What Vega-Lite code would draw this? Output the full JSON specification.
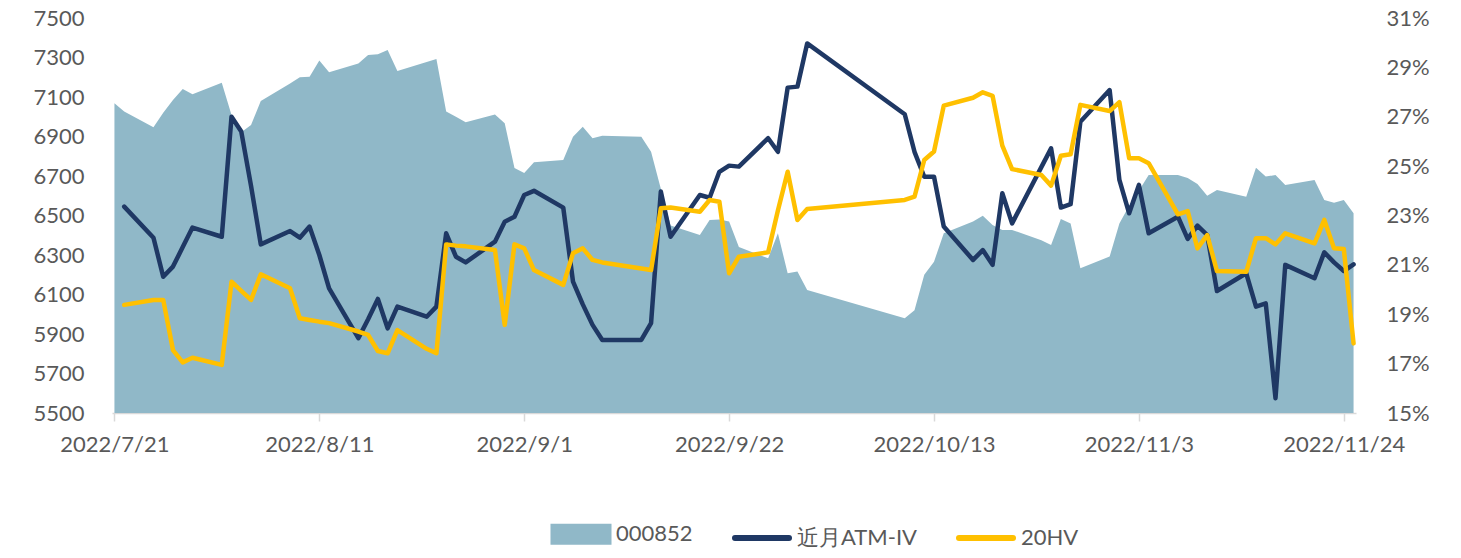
{
  "$schema": "https://vega.github.io/schema/vega-lite/v6.json",
  "width": 1244,
  "height": 395,
  "autosize": {"type": "none"},
  "padding": {"left": 112, "top": 18, "right": 105, "bottom": 145},
  "background": "white",
  "config": {
    "view": {"stroke": null},
    "font": "Lato",
    "axis": {"labelFont": "Lato", "labelFontSize": 22, "labelColor": "#595959", "grid": false, "title": null},
    "legend": {"labelFont": "Lato", "labelFontSize": 22, "labelColor": "#595959"}
  },
  "data": {"values": [
    {"date": "2022/07/21", "idx": 7068, "iv": null, "hv": null},
    {"date": "2022/07/22", "idx": 7026, "iv": 23.36, "hv": 19.38},
    {"date": "2022/07/25", "idx": 6947, "iv": 22.10, "hv": 19.58},
    {"date": "2022/07/26", "idx": 7020, "iv": 20.52, "hv": 19.58},
    {"date": "2022/07/27", "idx": 7085, "iv": 20.93, "hv": 17.55},
    {"date": "2022/07/28", "idx": 7140, "iv": 21.72, "hv": 17.05},
    {"date": "2022/07/29", "idx": 7114, "iv": 22.51, "hv": 17.24},
    {"date": "2022/08/01", "idx": 7172, "iv": 22.14, "hv": 16.95},
    {"date": "2022/08/02", "idx": 7009, "iv": 27.00, "hv": 20.32},
    {"date": "2022/08/03", "idx": 6921, "iv": 26.40, "hv": 19.95},
    {"date": "2022/08/04", "idx": 6958, "iv": 24.20, "hv": 19.58},
    {"date": "2022/08/05", "idx": 7080, "iv": 21.83, "hv": 20.62},
    {"date": "2022/08/08", "idx": 7168, "iv": 22.37, "hv": 20.05},
    {"date": "2022/08/09", "idx": 7200, "iv": 22.10, "hv": 18.84},
    {"date": "2022/08/10", "idx": 7203, "iv": 22.55, "hv": 18.77},
    {"date": "2022/08/11", "idx": 7285, "iv": 21.40, "hv": 18.70},
    {"date": "2022/08/12", "idx": 7225, "iv": 20.05, "hv": 18.64},
    {"date": "2022/08/15", "idx": 7270, "iv": 18.03, "hv": 18.30},
    {"date": "2022/08/16", "idx": 7313, "iv": 18.80, "hv": 18.16},
    {"date": "2022/08/17", "idx": 7316, "iv": 19.62, "hv": 17.51},
    {"date": "2022/08/18", "idx": 7338, "iv": 18.43, "hv": 17.42},
    {"date": "2022/08/19", "idx": 7232, "iv": 19.31, "hv": 18.36},
    {"date": "2022/08/22", "idx": 7277, "iv": 18.90, "hv": 17.60},
    {"date": "2022/08/23", "idx": 7292, "iv": 19.31, "hv": 17.42},
    {"date": "2022/08/24", "idx": 7026, "iv": 22.28, "hv": 21.83},
    {"date": "2022/08/25", "idx": 7000, "iv": 21.33, "hv": 21.78},
    {"date": "2022/08/26", "idx": 6972, "iv": 21.10, "hv": 21.75},
    {"date": "2022/08/29", "idx": 7012, "iv": 21.94, "hv": 21.60},
    {"date": "2022/08/30", "idx": 6967, "iv": 22.75, "hv": 18.57},
    {"date": "2022/08/31", "idx": 6740, "iv": 22.95, "hv": 21.83},
    {"date": "2022/09/01", "idx": 6715, "iv": 23.83, "hv": 21.67},
    {"date": "2022/09/02", "idx": 6770, "iv": 24.00, "hv": 20.79},
    {"date": "2022/09/05", "idx": 6781, "iv": 23.32, "hv": 20.19},
    {"date": "2022/09/06", "idx": 6899, "iv": 20.32, "hv": 21.47},
    {"date": "2022/09/07", "idx": 6950, "iv": 19.40, "hv": 21.67},
    {"date": "2022/09/08", "idx": 6891, "iv": 18.57, "hv": 21.20},
    {"date": "2022/09/09", "idx": 6904, "iv": 17.96, "hv": 21.10},
    {"date": "2022/09/13", "idx": 6899, "iv": 17.96, "hv": 20.85},
    {"date": "2022/09/14", "idx": 6823, "iv": 18.64, "hv": 20.79},
    {"date": "2022/09/15", "idx": 6635, "iv": 23.97, "hv": 23.29},
    {"date": "2022/09/16", "idx": 6450, "iv": 22.14, "hv": 23.32},
    {"date": "2022/09/19", "idx": 6401, "iv": 23.83, "hv": 23.15},
    {"date": "2022/09/20", "idx": 6477, "iv": 23.72, "hv": 23.63},
    {"date": "2022/09/21", "idx": 6480, "iv": 24.77, "hv": 23.56},
    {"date": "2022/09/22", "idx": 6470, "iv": 25.02, "hv": 20.66},
    {"date": "2022/09/23", "idx": 6340, "iv": 24.98, "hv": 21.33},
    {"date": "2022/09/26", "idx": 6283, "iv": 26.13, "hv": 21.51},
    {"date": "2022/09/27", "idx": 6410, "iv": 25.58, "hv": 23.20},
    {"date": "2022/09/28", "idx": 6207, "iv": 28.18, "hv": 24.77},
    {"date": "2022/09/29", "idx": 6216, "iv": 28.22, "hv": 22.82},
    {"date": "2022/09/30", "idx": 6123, "iv": 29.97, "hv": 23.26},
    {"date": "2022/10/10", "idx": 5980, "iv": 27.10, "hv": 23.63},
    {"date": "2022/10/11", "idx": 6020, "iv": 25.58, "hv": 23.76},
    {"date": "2022/10/12", "idx": 6200, "iv": 24.57, "hv": 25.25},
    {"date": "2022/10/13", "idx": 6266, "iv": 24.57, "hv": 25.59},
    {"date": "2022/10/14", "idx": 6410, "iv": 22.55, "hv": 27.45},
    {"date": "2022/10/17", "idx": 6469, "iv": 21.20, "hv": 27.77},
    {"date": "2022/10/18", "idx": 6499, "iv": 21.60, "hv": 27.99},
    {"date": "2022/10/19", "idx": 6452, "iv": 21.00, "hv": 27.85},
    {"date": "2022/10/20", "idx": 6427, "iv": 23.90, "hv": 25.83},
    {"date": "2022/10/21", "idx": 6427, "iv": 22.68, "hv": 24.88},
    {"date": "2022/10/24", "idx": 6375, "iv": 24.96, "hv": 24.64},
    {"date": "2022/10/25", "idx": 6351, "iv": 25.72, "hv": 24.21},
    {"date": "2022/10/26", "idx": 6482, "iv": 23.32, "hv": 25.42},
    {"date": "2022/10/27", "idx": 6460, "iv": 23.46, "hv": 25.48},
    {"date": "2022/10/28", "idx": 6233, "iv": 26.80, "hv": 27.48},
    {"date": "2022/10/31", "idx": 6292, "iv": 28.08, "hv": 27.23},
    {"date": "2022/11/01", "idx": 6460, "iv": 24.44, "hv": 27.59},
    {"date": "2022/11/02", "idx": 6550, "iv": 23.09, "hv": 25.32},
    {"date": "2022/11/03", "idx": 6625, "iv": 24.24, "hv": 25.32},
    {"date": "2022/11/04", "idx": 6705, "iv": 22.28, "hv": 25.12},
    {"date": "2022/11/07", "idx": 6705, "iv": 22.95, "hv": 23.05},
    {"date": "2022/11/08", "idx": 6690, "iv": 22.05, "hv": 23.18},
    {"date": "2022/11/09", "idx": 6660, "iv": 22.59, "hv": 21.67},
    {"date": "2022/11/10", "idx": 6600, "iv": 22.21, "hv": 22.21},
    {"date": "2022/11/11", "idx": 6629, "iv": 19.94, "hv": 20.75},
    {"date": "2022/11/14", "idx": 6595, "iv": 20.66, "hv": 20.72},
    {"date": "2022/11/15", "idx": 6742, "iv": 19.31, "hv": 22.08},
    {"date": "2022/11/16", "idx": 6697, "iv": 19.44, "hv": 22.08},
    {"date": "2022/11/17", "idx": 6705, "iv": 15.60, "hv": 21.83},
    {"date": "2022/11/18", "idx": 6655, "iv": 21.00, "hv": 22.28},
    {"date": "2022/11/21", "idx": 6680, "iv": 20.46, "hv": 21.87},
    {"date": "2022/11/22", "idx": 6579, "iv": 21.51, "hv": 22.82},
    {"date": "2022/11/23", "idx": 6565, "iv": 21.10, "hv": 21.67},
    {"date": "2022/11/24", "idx": 6579, "iv": 20.75, "hv": 21.64},
    {"date": "2022/11/25", "idx": 6511, "iv": 21.02, "hv": 17.82}
  ]},
  "encoding": {
    "x": {
      "field": "date", "type": "temporal",
      "scale": {"domain": [{"year": 2022, "month": 7, "date": 20, "hours": 18}, {"year": 2022, "month": 11, "date": 25, "hours": 6}]},
      "axis": {
        "values": [
          {"year": 2022, "month": 7, "date": 21},
          {"year": 2022, "month": 8, "date": 11},
          {"year": 2022, "month": 9, "date": 1},
          {"year": 2022, "month": 9, "date": 22},
          {"year": 2022, "month": 10, "date": 13},
          {"year": 2022, "month": 11, "date": 3},
          {"year": 2022, "month": 11, "date": 24}
        ],
        "format": "%Y/%-m/%-d",
        "domainColor": "#D9D9D9", "domainWidth": 1.5,
        "tickColor": "#D9D9D9", "tickSize": 8, "tickWidth": 1.5,
        "labelPadding": 13, "labelFlush": false, "labelOverlap": false
      }
    }
  },
  "layer": [
    {
      "mark": {"type": "area", "clip": true},
      "encoding": {
        "y": {
          "field": "idx", "type": "quantitative",
          "scale": {"domain": [5500, 7500], "zero": false, "nice": false},
          "axis": {
            "orient": "left", "values": [5500, 5700, 5900, 6100, 6300, 6500, 6700, 6900, 7100, 7300, 7500],
            "format": "d", "domain": false, "ticks": false, "tickSize": 0, "labelPadding": 28
          }
        },
        "y2": {"datum": 5500},
        "color": {
          "datum": "000852", "type": "nominal",
          "scale": {"domain": ["000852", "近月ATM-IV", "20HV"], "range": ["#90B8C8", "#1F3864", "#FFC000"]},
          "legend": {
            "orient": "none", "legendX": 436, "legendY": 483, "direction": "horizontal",
            "title": null, "padding": 0, "symbolSize": 3600, "symbolStrokeWidth": 6, "labelOffset": 2, "columnPadding": 30,
            "encode": {
              "symbols": {"update": {
                "shape": {"signal": "datum.value === '000852' ? 'M-0.917,-0.25H0.917V0.25H-0.917Z' : 'M-0.9,0H0.9'"},
                "fill": {"signal": "datum.value === '000852' ? '#90B8C8' : 'transparent'"},
                "stroke": {"signal": "datum.value === '000852' ? 'transparent' : (datum.value === '20HV' ? '#FFC000' : '#1F3864')"},
                "strokeWidth": {"value": 6},
                "strokeCap": {"value": "round"},
                "opacity": {"value": 1}
              }}
            }
          }
        }
      }
    },
    {
      "layer": [
        {
          "mark": {"type": "line", "strokeWidth": 4.5, "strokeJoin": "round", "strokeCap": "round", "clip": true},
          "encoding": {
            "y": {
              "field": "iv", "type": "quantitative",
              "scale": {"domain": [15, 31], "zero": false, "nice": false},
              "axis": {
                "orient": "right", "values": [15, 17, 19, 21, 23, 25, 27, 29, 31],
                "labelExpr": "datum.value + '%'", "domain": false, "ticks": false, "tickSize": 0, "labelPadding": 30
              }
            },
            "color": {"datum": "近月ATM-IV", "type": "nominal"}
          }
        },
        {
          "mark": {"type": "line", "strokeWidth": 4.5, "strokeJoin": "round", "strokeCap": "round", "clip": true},
          "encoding": {
            "y": {"field": "hv", "type": "quantitative"},
            "color": {"datum": "20HV", "type": "nominal"}
          }
        }
      ]
    }
  ],
  "resolve": {"scale": {"y": "independent"}, "axis": {"y": "independent"}}
}
